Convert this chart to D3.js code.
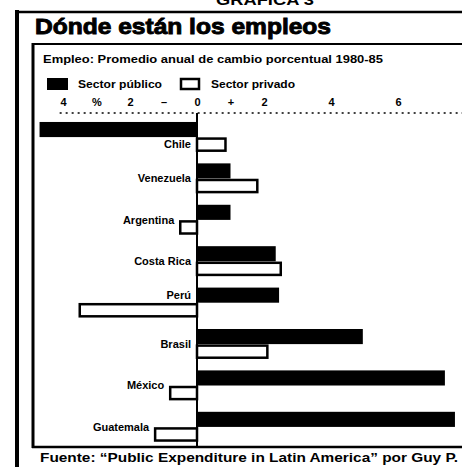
<!DOCTYPE html>
<html>
<head>
<meta charset="utf-8">
<script src="https://cdn.jsdelivr.net/npm/d3@7"></script>
<style>
  body { margin: 0; background: #fff; }
  svg { display: block; font-family: "Liberation Sans", Arial, sans-serif; }
</style>
</head>
<body>
<div id="chart"></div>
<script>
// Empleo: promedio anual de cambio porcentual 1980-85
var countries = ["Chile", "Venezuela", "Argentina", "Costa Rica", "Perú", "Brasil", "México", "Guatemala"];
var publico = [-4.7, 1.0, 1.0, 2.35, 2.45, 4.95, 7.4, 7.7];
var privado = [0.85, 1.8, -0.5, 2.5, -3.5, 2.1, -0.8, -1.25];
var tickValues = [-4, -3, -2, -1, 0, 1, 2, 4, 6, 8];
var tickLabels = ["4", "%", "2", "–", "0", "+", "2", "4", "6", "8"];
var series = ["Sector público", "Sector privado"];

var width = 462,
    height = 467;

var svg = d3.select("#chart")
    .append("svg")
    .attr("width", width)
    .attr("height", height);

// frames
svg.append("line").attr("x1", 17).attr("x2", 17).attr("y1", 10).attr("y2", height)
    .style("stroke", "#000").style("stroke-width", 4);
svg.append("line").attr("x1", 15).attr("x2", width).attr("y1", 12).attr("y2", 12)
    .style("stroke", "#000").style("stroke-width", 2.5);
svg.append("line").attr("x1", 33).attr("x2", 33).attr("y1", 43).attr("y2", 448)
    .style("stroke", "#000").style("stroke-width", 3);
svg.append("line").attr("x1", 32).attr("x2", width).attr("y1", 44).attr("y2", 44)
    .style("stroke", "#000").style("stroke-width", 2);
svg.append("line").attr("x1", 32).attr("x2", width).attr("y1", 447).attr("y2", 447)
    .style("stroke", "#000").style("stroke-width", 2.5);

// header texts (the page number is cut by the top edge, as in the print)
svg.append("text")
    .attr("x", 216).attr("y", 5)
    .attr("textLength", 98).attr("lengthAdjust", "spacingAndGlyphs")
    .style("font-size", "14px").style("font-weight", "bold")
    .text("GRAFICA 3");

svg.append("text")
    .attr("x", 35).attr("y", 34)
    .attr("textLength", 296).attr("lengthAdjust", "spacingAndGlyphs")
    .style("font-size", "22px").style("font-weight", "bold")
    .style("stroke", "#000").style("stroke-width", 0.9)
    .text("Dónde están los empleos");

svg.append("text")
    .attr("x", 43).attr("y", 63)
    .attr("textLength", 340).attr("lengthAdjust", "spacingAndGlyphs")
    .style("font-size", "11.5px").style("font-weight", "bold")
    .text("Empleo: Promedio anual de cambio porcentual 1980-85");

// legend
var legend = svg.append("g").attr("class", "legend");
var legX = [47, 180];
series.forEach(function(s, i) {
    legend.append("rect")
        .attr("x", legX[i] + (i ? 1 : 0)).attr("y", 78 + (i ? 1 : 0))
        .attr("width", i ? 18 : 21).attr("height", i ? 10 : 12)
        .style("fill", i ? "#fff" : "#000")
        .style("stroke", "#000").style("stroke-width", i ? 2.5 : 0);
    legend.append("text")
        .attr("x", legX[i] + 31).attr("y", 88)
        .attr("textLength", 84).attr("lengthAdjust", "spacingAndGlyphs")
        .style("font-size", "11px").style("font-weight", "bold")
        .text(s);
});

// scales
var x = d3.scaleLinear()
    .domain([-4, 6])
    .range([63, 398]);

var y = d3.scaleBand()
    .domain(countries)
    .range([117, 447])
    .paddingInner(0.27)
    .paddingOuter(0.12);

var ySub = d3.scaleBand()
    .domain(["publico", "privado"])
    .range([0, y.bandwidth()]);

// axis
var xAxis = d3.axisTop(x)
    .tickValues(tickValues)
    .tickFormat(function(d, i) { return tickLabels[i]; })
    .tickSize(0)
    .tickPadding(0);

var axisG = svg.append("g")
    .attr("transform", "translate(0,106)")
    .call(xAxis);
axisG.select(".domain").remove();
axisG.selectAll("text")
    .attr("dy", 0)
    .style("font-family", "'Liberation Sans', Arial, sans-serif")
    .style("font-size", "11px")
    .style("font-weight", "bold")
    .style("fill", "#000");

// dotted axis line
svg.append("line")
    .attr("x1", x(-4.1)).attr("x2", width)
    .attr("y1", 113).attr("y2", 113)
    .style("stroke", "#000")
    .style("stroke-width", 1.5)
    .style("stroke-dasharray", "2,4");

var rows = countries.map(function(c, i) {
    return { name: c, publico: publico[i], privado: privado[i] };
});

// bars
var groups = svg.append("g")
    .attr("class", "bars")
    .selectAll(".grp")
    .data(rows)
    .enter()
    .append("g")
    .attr("class", "grp")
    .attr("transform", function(d) { return "translate(0," + y(d.name) + ")"; });

groups.append("rect")
    .attr("x", function(d) { return x(Math.min(0, d.publico)); })
    .attr("y", ySub("publico"))
    .attr("width", function(d) { return Math.abs(x(d.publico) - x(0)); })
    .attr("height", ySub.bandwidth())
    .style("fill", "#000");

groups.append("rect")
    .attr("x", function(d) { return x(Math.min(0, d.privado)); })
    .attr("y", ySub("privado") + 1.5)
    .attr("width", function(d) { return Math.abs(x(d.privado) - x(0)); })
    .attr("height", ySub.bandwidth() - 3)
    .style("fill", "#fff")
    .style("stroke", "#000")
    .style("stroke-width", 2.5);

// zero line
svg.append("line")
    .attr("x1", x(0)).attr("x2", x(0))
    .attr("y1", 113).attr("y2", 447)
    .style("stroke", "#000")
    .style("stroke-width", 2);

// country labels
groups.append("text")
    .attr("x", function(d) {
        if (d.publico < -2 || d.privado < -2) return x(0) - 6;
        return x(Math.min(0, d.publico, d.privado)) - 6;
    })
    .attr("y", function(d) {
        if (d.publico < -2) return ySub("privado") + ySub.bandwidth() / 2;
        if (d.privado < -2) return ySub("publico") + ySub.bandwidth() / 2;
        return y.bandwidth() / 2;
    })
    .attr("dy", "0.35em")
    .attr("text-anchor", "end")
    .style("font-size", "11px")
    .style("font-weight", "bold")
    .text(function(d) { return d.name; });

// source
svg.append("text")
    .attr("x", 40).attr("y", 462)
    .attr("textLength", 418).attr("lengthAdjust", "spacingAndGlyphs")
    .style("font-size", "13px").style("font-weight", "bold")
    .text("Fuente: \u201CPublic Expenditure in Latin America\u201D por Guy P.");
</script>
</body>
</html>
